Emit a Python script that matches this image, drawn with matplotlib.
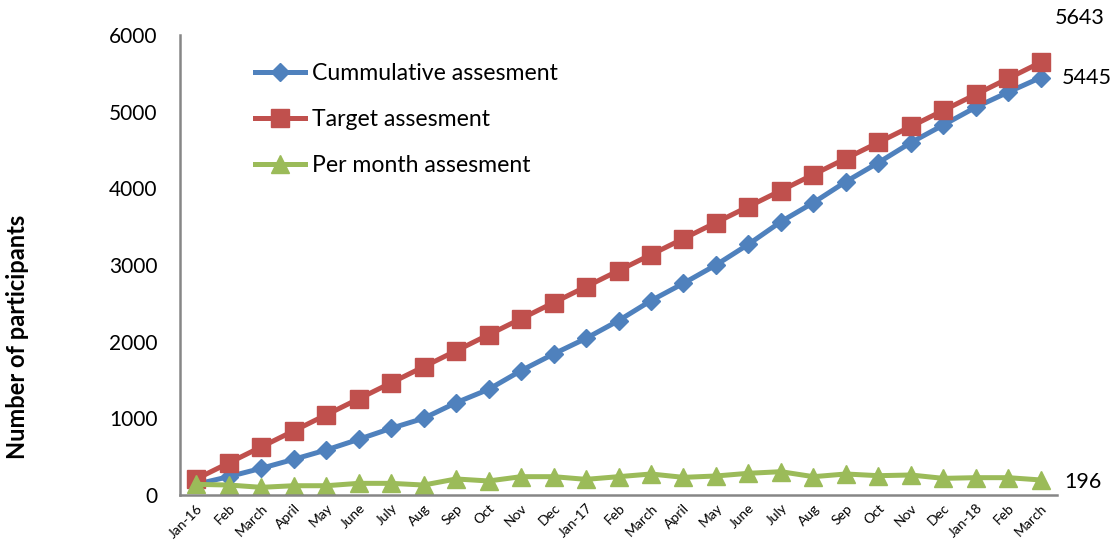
import numpy as np
import matplotlib
matplotlib.use('Agg')
import matplotlib.pyplot as plt

plt.rcParams['font.family'] = ['Lato', 'DejaVu Sans']

months = ['Jan-16', 'Feb', 'March', 'April', 'May', 'June', 'July', 'Aug', 'Sep', 'Oct', 'Nov', 'Dec',
          'Jan-17', 'Feb', 'March', 'April', 'May', 'June', 'July', 'Aug', 'Sep', 'Oct', 'Nov', 'Dec',
          'Jan-18', 'Feb', 'March']
cumulative = [140, 239, 348, 465, 587, 726, 870, 1000, 1204, 1378, 1622, 1839, 2043, 2274, 2535,
              2761, 3000, 3270, 3565, 3813, 4087, 4335, 4596, 4826, 5058, 5255, 5445]
target = [209, 418, 627, 836, 1045, 1254, 1463, 1672, 1881, 2090, 2299, 2508, 2717, 2926, 3135,
          3344, 3553, 3762, 3971, 4180, 4389, 4598, 4807, 5016, 5225, 5434, 5643]
per_month = [139, 130, 100, 121, 121, 152, 152, 130, 209, 183, 239, 239, 204, 239, 274,
             230, 248, 283, 304, 239, 274, 252, 261, 217, 226, 226, 196]

blue, red, green = '#4F81BD', '#C0504D', '#9BBB59'
x = np.arange(len(months))

fig = plt.figure(figsize=(11.17, 5.52), dpi=100)
ax = fig.add_axes([180/1117, 57/552, 877/1117, 460/552])

ax.plot(x, cumulative, color=blue, lw=3.6, marker='D', ms=9, label='Cummulative assesment')
ax.plot(x, target, color=red, lw=3.6, marker='s', ms=12.5, label='Target assesment')
ax.plot(x, per_month, color=green, lw=3.6, marker='^', ms=13.5, label='Per month assesment')

ax.set_xlim(-0.5, len(months) - 0.5)
ax.set_ylim(0, 6000)
ax.set_yticks(range(0, 6001, 1000))
ax.set_xticks(x)
ax.set_xticklabels(months, rotation=45, ha='right', va='top', rotation_mode='anchor', fontsize=10)
ax.tick_params(axis='y', length=0, pad=16, labelsize=15)
ax.tick_params(axis='x', length=0, pad=5)

for s in ['top', 'right']:
    ax.spines[s].set_visible(False)
for s in ['left', 'bottom']:
    ax.spines[s].set_color('#868686')
    ax.spines[s].set_linewidth(1.8)

fig.text(18/1117, 1 - 337/552, 'Number of participants', rotation=90, fontsize=17,
         fontweight='bold', ha='center', va='center')

ax.annotate(str(target[-1]), (x[-1], target[-1]), xytext=(39, 44), textcoords='offset pixels',
            ha='center', va='center', fontsize=15.5)
ax.annotate(str(cumulative[-1]), (x[-1], cumulative[-1]), xytext=(46, 0), textcoords='offset pixels',
            ha='center', va='center', fontsize=15.5)
ax.annotate(str(per_month[-1]), (x[-1], per_month[-1]), xytext=(42, -2), textcoords='offset pixels',
            ha='center', va='center', fontsize=15.5)

ax.legend(loc='upper left', bbox_to_anchor=(0.085, 0.94), frameon=False, fontsize=16.6,
          handlelength=2.2, handletextpad=0.3, labelspacing=1.1, borderpad=0, borderaxespad=0)

fig.savefig('out.png', dpi=100)
